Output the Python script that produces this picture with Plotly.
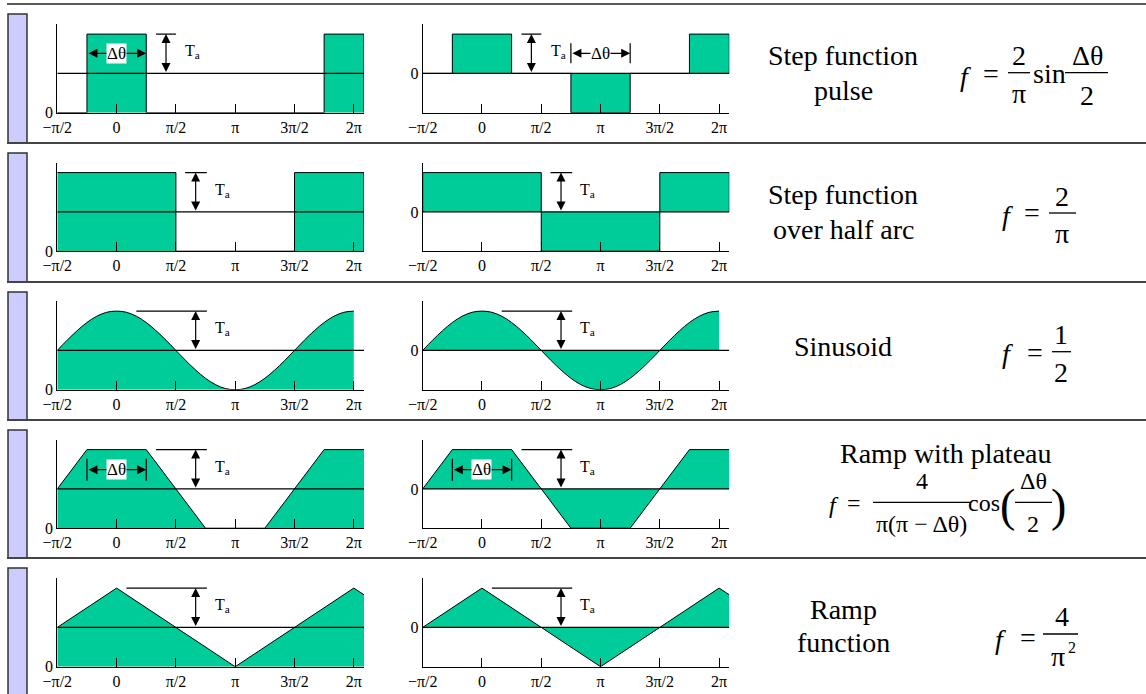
import plotly.graph_objects as go

W, H = 1146, 694
FONT = "Liberation Serif"
GREEN = "#00CC99"

# ---------------- data (angles in degrees, amplitudes in units of Ta) ----------------
X_START, X_END = -90, 375.5
TICK_VALS = [-90, 0, 90, 180, 270, 360]
TICK_TEXT = ["−π/2", "0", "π/2", "π", "3π/2", "2π"]
LEFT_MID, RIGHT_MID = 1, 0

# Row 1 – step function pulse (Δθ = π/2)
PULSE_L_X = [-90, -45, -45, 45, 45, 315, 315, 375.5, 375.5]
PULSE_L_Y = [0, 0, 2, 2, 0, 0, 2, 2, 0]
PULSE_R_X = [-90, -45, -45, 45, 45, 135, 135, 225, 225, 315, 315, 375.5, 375.5]
PULSE_R_Y = [0, 0, 1, 1, 0, 0, -1, -1, 0, 0, 1, 1, 0]

# Row 2 – step function over half arc
HALF_L_X = [-90, 90, 90, 270, 270, 375.5, 375.5]
HALF_L_Y = [2, 2, 0, 0, 2, 2, 0]
HALF_R_X = [-90, -90, 90, 90, 270, 270, 375.5, 375.5]
HALF_R_Y = [0, 1, 1, -1, -1, 1, 1, 0]

# Row 3 – sinusoid
SINE_X = [-90, -75, -60, -45, -30, -15, 0, 15, 30, 45, 60, 75, 90, 105, 120, 135,
          150, 165, 180, 195, 210, 225, 240, 255, 270, 285, 300, 315, 330, 345, 360]
SINE_R_Y = [0, 0.26, 0.5, 0.71, 0.87, 0.97, 1, 0.97, 0.87, 0.71, 0.5, 0.26, 0,
            -0.26, -0.5, -0.71, -0.87, -0.97, -1, -0.97, -0.87, -0.71, -0.5, -0.26,
            0, 0.26, 0.5, 0.71, 0.87, 0.97, 1]
SINE_L_Y = [v + LEFT_MID for v in SINE_R_Y]

# Row 4 – ramp with plateau
TRAP_X = [-90, -45, 45, 135, 225, 315, 375.5]
TRAP_R_Y = [0, 1, 1, -1, -1, 1, 1]
TRAP_L_Y = [v + LEFT_MID for v in TRAP_R_Y]

# Row 5 – ramp function
RAMP_X = [-90, 0, 180, 360, 375.5]
RAMP_R_Y = [0, 1, -1, 1, 0.83]
RAMP_L_Y = [v + LEFT_MID for v in RAMP_R_Y]

ROWS = [
    (PULSE_L_X, PULSE_L_Y, PULSE_R_X, PULSE_R_Y, "linear"),
    (HALF_L_X, HALF_L_Y, HALF_R_X, HALF_R_Y, "linear"),
    (SINE_X, SINE_L_Y, SINE_X, SINE_R_Y, "spline"),
    (TRAP_X, TRAP_L_Y, TRAP_X, TRAP_R_Y, "linear"),
    (RAMP_X, RAMP_L_Y, RAMP_X, RAMP_R_Y, "linear"),
]

# Ta marker per row: reference bar (x0, x1), arrow x, label x  (degrees)
TA = [
    ((60, 90), 75, 101),
    ((104, 137), 120, 146),
    ((30, 137), 120, 146),
    ((60, 137), 120, 146),
    ((15, 137), 120, 146),
]

# ---------------- geometry helpers ----------------
def px(x):
    return x / W

def py(y):
    return 1 - y / H

UNIT = 39.3
ROW_BOTTOM = [112.7 + 138.5 * i for i in range(5)]
X_DOM = [(57.3, 364.0), (422.7, 729.3)]

fig = go.Figure()
layout = dict(
    template="none",
    width=W, height=H, autosize=False,
    margin=dict(l=0, r=0, t=0, b=0, pad=0, autoexpand=False),
    paper_bgcolor="white", plot_bgcolor="rgba(0,0,0,0)", showlegend=False,
    font=dict(family=FONT, color="black"),
)
shapes = []
annotations = []

ARROW = dict(showarrow=True, arrowside="end+start", arrowhead=2, startarrowhead=2,
             arrowsize=1.5, startarrowsize=1.5, arrowwidth=1.2, arrowcolor="black",
             standoff=0, startstandoff=0, text="")

for r, (lx, ly, rx, ry, lshape) in enumerate(ROWS):
    for side in range(2):
        k = 2 * r + side + 1
        xs, ys = (lx, ly) if side == 0 else (rx, ry)
        mid = LEFT_MID if side == 0 else RIGHT_MID
        y0 = 0 if side == 0 else -1
        xa, ya = f"x{k}", f"y{k}"
        fig.add_trace(go.Scatter(
            x=xs, y=ys, mode="lines", fill="tozeroy", fillcolor=GREEN,
            line=dict(color="black", width=1, shape=lshape),
            xaxis=xa, yaxis=ya, hoverinfo="skip"))
        fig.add_trace(go.Scatter(
            x=[X_START, X_END], y=[mid, mid], mode="lines",
            line=dict(color="black", width=1.2), xaxis=xa, yaxis=ya, hoverinfo="skip"))
        b = ROW_BOTTOM[r]
        layout[f"xaxis{k}"] = dict(
            domain=[px(X_DOM[side][0]), px(X_DOM[side][1])], anchor=ya, automargin=False,
            range=[X_START, X_END], showline=True, linecolor="black", linewidth=1,
            ticks="inside", ticklen=9, tickwidth=1, tickcolor="black",
            tickvals=TICK_VALS, ticktext=TICK_TEXT, tickfont=dict(size=16, family=FONT),
            showgrid=False, zeroline=False, fixedrange=True)
        layout[f"yaxis{k}"] = dict(
            domain=[py(b), py(b - 2.25 * UNIT)], anchor=xa, automargin=False,
            range=[y0, y0 + 2.25], showline=True, linecolor="black", linewidth=1,
            ticks="", tickvals=[0], ticktext=["0"], tickfont=dict(size=16, family=FONT),
            showgrid=False, zeroline=False, fixedrange=True)

        # Ta marker
        (bx0, bx1), ax_, lab = TA[r]
        top = mid + 1
        shapes.append(dict(type="line", xref=xa, yref=ya, x0=bx0, x1=bx1, y0=top, y1=top,
                           line=dict(color="black", width=1.2)))
        annotations.append(dict(xref=xa, yref=ya, axref=xa, ayref=ya, x=ax_, y=top,
                                ax=ax_, ay=mid, **ARROW))
        annotations.append(dict(xref=xa, yref=ya, x=lab, y=mid + 0.55, xanchor="left",
                                yanchor="middle", text="T<sub>a</sub>", showarrow=False,
                                font=dict(size=16, family=FONT)))

# Δθ markers: (axis index, y level, end bars, x0, x1)
DTHETA = [(1, 1.51, None, -45, 45), (2, 0.51, (0.26, 0.77), 135, 225),
          (7, 1.49, (1.21, 1.77), -45, 45), (8, 0.49, (0.21, 0.77), -45, 45)]
for k, yl, bars, x0, x1 in DTHETA:
    xa, ya = f"x{k}", f"y{k}"
    if bars:
        for xx in (x0, x1):
            shapes.append(dict(type="line", xref=xa, yref=ya, x0=xx, x1=xx,
                               y0=bars[0], y1=bars[1], line=dict(color="black", width=1.2)))
    annotations.append(dict(xref=xa, yref=ya, axref=xa, ayref=ya, x=x1, y=yl, ax=x0, ay=yl,
                            **ARROW))
    annotations.append(dict(xref=xa, yref=ya, x=(x0 + x1) / 2, y=yl, text="Δθ",
                            showarrow=False, bgcolor="white", borderpad=0,
                            font=dict(size=17, family=FONT)))

# separators and purple tabs
SEPS = [4, 143, 282, 420, 558]
for i, s in enumerate(SEPS):
    shapes.append(dict(type="line", xref="paper", yref="paper", x0=px(7), x1=1,
                       y0=py(s), y1=py(s), line=dict(color="#222" if i == 0 else "#444",
                                                     width=1.5 if i == 0 else 2)))
    bottom = SEPS[i + 1] if i + 1 < len(SEPS) else H + 5
    shapes.append(dict(type="rect", xref="paper", yref="paper", x0=px(8), x1=px(27),
                       y0=py(bottom), y1=py(s + 10), fillcolor="#CCCCFF",
                       line=dict(color="#333", width=1.5), layer="below"))


def txt(x, y, s, size=28, xanchor="center"):
    annotations.append(dict(xref="paper", yref="paper", x=px(x), y=py(y), text=s,
                            showarrow=False, xanchor=xanchor, yanchor="middle",
                            font=dict(size=size, family=FONT, color="black")))


def bar(x0, x1, y):
    shapes.append(dict(type="line", xref="paper", yref="paper", x0=px(x0), x1=px(x1),
                       y0=py(y), y1=py(y), line=dict(color="black", width=1.3)))

# Titles
txt(843, 56, "Step function")
txt(843, 90, "pulse")
txt(843, 194, "Step function")
txt(843, 229, "over half arc")
txt(843, 346, "Sinusoid")
txt(946, 453, "Ramp with plateau")
txt(843, 609, "Ramp")
txt(843, 642, "function")

# Row 1 formula
txt(965, 76, "<i>f</i>")
txt(991, 74, "=")
bar(1008, 1030, 72.7)
txt(1019, 56, "2")
txt(1019, 94, "π")
txt(1049, 74, "sin")
bar(1065, 1108, 72.7)
txt(1087, 56, "Δθ")
txt(1087, 96, "2")

# Row 2 formula
txt(1007, 215, "<i>f</i>")
txt(1032, 213, "=")
bar(1049, 1076, 213)
txt(1062, 196, "2")
txt(1062, 234, "π")

# Row 3 formula
txt(1007, 354, "<i>f</i>")
txt(1035, 352, "=")
bar(1052, 1071, 351.7)
txt(1061, 334, "1")
txt(1061, 372, "2")

# Row 4 formula
txt(834, 505, "<i>f</i>", 24)
txt(854, 503, "=", 24)
bar(873, 970, 502.3)
txt(921.7, 481, "4", 24)
txt(921.7, 524, "π(π − Δθ)", 24)
txt(984, 503, "cos", 24)
txt(1007, 505, "(", 46)
bar(1015, 1052, 502.3)
txt(1033, 481, "Δθ", 24)
txt(1033, 524, "2", 24)
txt(1058, 505, ")", 46)

# Row 5 formula
txt(1000, 639, "<i>f</i>")
txt(1028, 637, "=")
bar(1043, 1078, 634)
txt(1061.7, 616, "4")
txt(1058, 656, "π")
txt(1066, 647, "2", 16, xanchor="left")

layout["shapes"] = shapes
layout["annotations"] = annotations
fig.update_layout(**layout)
fig.write_html("out.html", config={"displayModeBar": False, "responsive": False})

# remove the default page margin so the figure sits at the window origin
with open("out.html", encoding="utf-8") as fh:
    page = fh.read()
page = page.replace("<body>", '<body style="margin:0;padding:0;overflow:hidden">', 1)
page = page.replace("<head>", "<head><style>html,body{margin:0;padding:0;overflow:hidden}</style>", 1)
with open("out.html", "w", encoding="utf-8") as fh:
    fh.write(page)
